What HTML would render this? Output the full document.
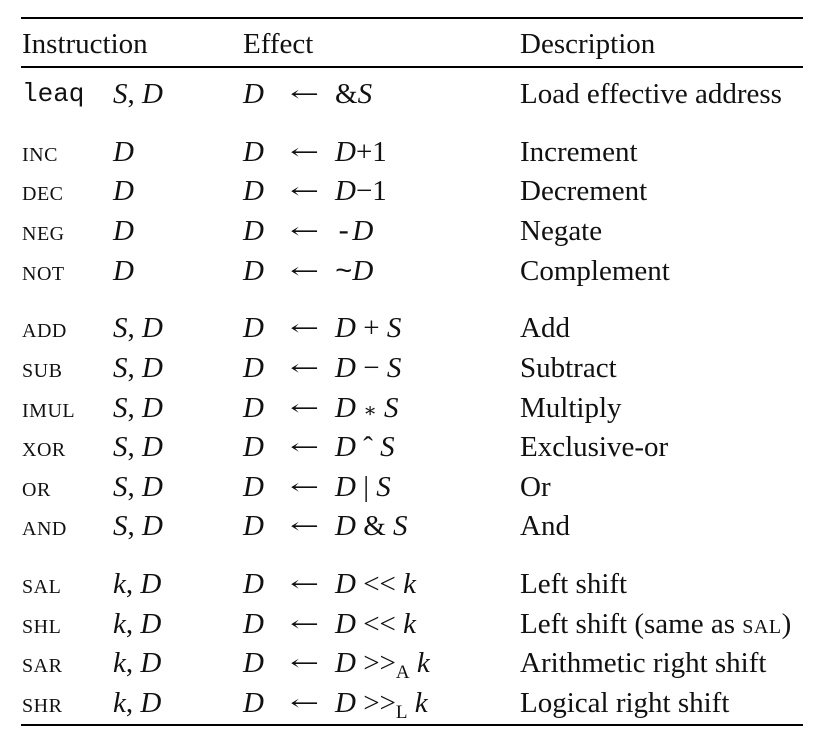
<!DOCTYPE html>
<html><head><meta charset="utf-8">
<style>
body{margin:0;background:#fff;}
#t{position:relative;width:813px;height:742px;font-family:"Liberation Serif",serif;font-size:29px;color:#111;}
.r{position:absolute;left:0;width:813px;height:32px;line-height:32px;margin-top:1px;}
.r>span{position:absolute;top:0;white-space:nowrap;}
.c1{left:22px}.c2{left:113px}.c3{left:243px}.c4{left:290px}.c5{left:335px}.c6{left:520px}
.r>span.sc{top:3px}
.sc{font-size:20px;letter-spacing:0.5px}
i{font-style:italic}
.mono{font-family:"Liberation Mono",monospace;font-size:26px}
.rule{position:absolute;left:21px;width:782px;background:#000}
sub{font-size:19px;vertical-align:-6px;font-style:normal}
.arr{font-family:"DejaVu Serif",serif;font-size:21px;display:inline-block;transform:scaleX(1.65);transform-origin:left center}
.sm{font-family:"DejaVu Serif",serif;font-size:20px}
</style></head><body>
<div id="t">
<div class="rule" style="top:17px;height:2px"></div>
<div class="rule" style="top:66px;height:2px"></div>
<div class="rule" style="top:724px;height:2px"></div>

<div class="r" style="top:27px"><span class="c1">Instruction</span><span class="c3">Effect</span><span class="c6">Description</span></div>

<div class="r" style="top:77px"><span class="c1 mono">leaq</span><span class="c2"><i>S</i>, <i>D</i></span><span class="c3"><i>D</i></span><span class="c4 arr">←</span><span class="c5">&amp;<i>S</i></span><span class="c6">Load effective address</span></div>

<div class="r" style="top:135px"><span class="c1 sc">INC</span><span class="c2"><i>D</i></span><span class="c3"><i>D</i></span><span class="c4 arr">←</span><span class="c5"><i>D</i>+1</span><span class="c6">Increment</span></div>
<div class="r" style="top:174px"><span class="c1 sc">DEC</span><span class="c2"><i>D</i></span><span class="c3"><i>D</i></span><span class="c4 arr">←</span><span class="c5"><i>D</i>−1</span><span class="c6">Decrement</span></div>
<div class="r" style="top:214px"><span class="c1 sc">NEG</span><span class="c2"><i>D</i></span><span class="c3"><i>D</i></span><span class="c4 arr">←</span><span class="c5"><span style="font-family:'Liberation Mono',monospace">-</span><i>D</i></span><span class="c6">Negate</span></div>
<div class="r" style="top:254px"><span class="c1 sc">NOT</span><span class="c2"><i>D</i></span><span class="c3"><i>D</i></span><span class="c4 arr">←</span><span class="c5"><span style="font-family:'Liberation Mono',monospace">~</span><i>D</i></span><span class="c6">Complement</span></div>

<div class="r" style="top:311px"><span class="c1 sc">ADD</span><span class="c2"><i>S</i>, <i>D</i></span><span class="c3"><i>D</i></span><span class="c4 arr">←</span><span class="c5"><i>D</i> + <i>S</i></span><span class="c6">Add</span></div>
<div class="r" style="top:351px"><span class="c1 sc">SUB</span><span class="c2"><i>S</i>, <i>D</i></span><span class="c3"><i>D</i></span><span class="c4 arr">←</span><span class="c5"><i>D</i> − <i>S</i></span><span class="c6">Subtract</span></div>
<div class="r" style="top:391px"><span class="c1 sc">IMUL</span><span class="c2"><i>S</i>, <i>D</i></span><span class="c3"><i>D</i></span><span class="c4 arr">←</span><span class="c5"><i>D</i> <span class="sm">∗</span> <i>S</i></span><span class="c6">Multiply</span></div>
<div class="r" style="top:430px"><span class="c1 sc">XOR</span><span class="c2"><i>S</i>, <i>D</i></span><span class="c3"><i>D</i></span><span class="c4 arr">←</span><span class="c5"><i>D</i> ˆ <i>S</i></span><span class="c6">Exclusive-or</span></div>
<div class="r" style="top:470px"><span class="c1 sc">OR</span><span class="c2"><i>S</i>, <i>D</i></span><span class="c3"><i>D</i></span><span class="c4 arr">←</span><span class="c5"><i>D</i> | <i>S</i></span><span class="c6">Or</span></div>
<div class="r" style="top:509px"><span class="c1 sc">AND</span><span class="c2"><i>S</i>, <i>D</i></span><span class="c3"><i>D</i></span><span class="c4 arr">←</span><span class="c5"><i>D</i> &amp; <i>S</i></span><span class="c6">And</span></div>

<div class="r" style="top:567px"><span class="c1 sc">SAL</span><span class="c2"><i>k</i>, <i>D</i></span><span class="c3"><i>D</i></span><span class="c4 arr">←</span><span class="c5"><i>D</i> &lt;&lt; <i>k</i></span><span class="c6">Left shift</span></div>
<div class="r" style="top:607px"><span class="c1 sc">SHL</span><span class="c2"><i>k</i>, <i>D</i></span><span class="c3"><i>D</i></span><span class="c4 arr">←</span><span class="c5"><i>D</i> &lt;&lt; <i>k</i></span><span class="c6">Left shift (same as <span class="sc">SAL</span>)</span></div>
<div class="r" style="top:646px"><span class="c1 sc">SAR</span><span class="c2"><i>k</i>, <i>D</i></span><span class="c3"><i>D</i></span><span class="c4 arr">←</span><span class="c5"><i>D</i> &gt;&gt;<sub>A</sub> <i>k</i></span><span class="c6">Arithmetic right shift</span></div>
<div class="r" style="top:686px"><span class="c1 sc">SHR</span><span class="c2"><i>k</i>, <i>D</i></span><span class="c3"><i>D</i></span><span class="c4 arr">←</span><span class="c5"><i>D</i> &gt;&gt;<sub>L</sub> <i>k</i></span><span class="c6">Logical right shift</span></div>
</div>
</body></html>
